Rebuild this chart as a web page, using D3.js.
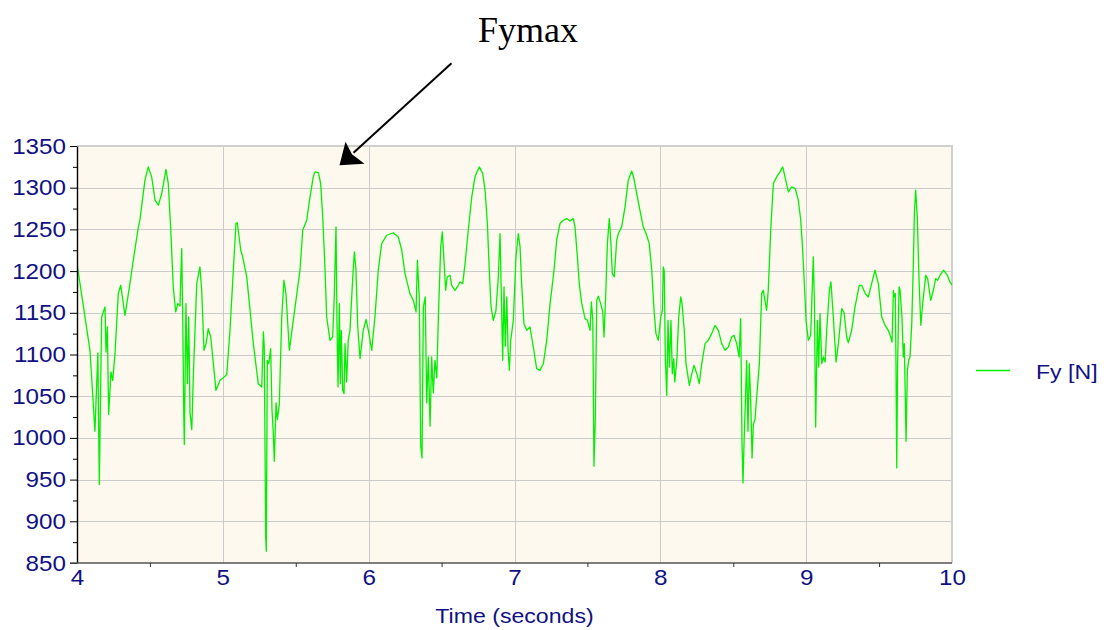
<!DOCTYPE html>
<html>
<head>
<meta charset="utf-8">
<script src="https://cdn.jsdelivr.net/npm/d3@7"></script>
<style>
  body { margin: 0; background: #ffffff; }
  text.sans { font-family: "Liberation Sans", Arial, sans-serif; }
  text.serif { font-family: "Liberation Serif", "Times New Roman", serif; }
</style>
</head>
<body>
<svg id="chart" width="1104" height="630"></svg>
<script>
// Lateral tyre force Fy [N] against time [s]: [time, force] samples
const fyTrace = [
  [4.000,1209],[4.089,1105],[4.123,1008],[4.143,1102],[4.153,944],[4.169,1145],[4.192,1157],[4.199,1103],[4.208,1133],[4.217,1028],
  [4.233,1079],[4.245,1069],[4.261,1102],[4.283,1173],[4.300,1183],[4.329,1147],[4.363,1185],[4.386,1213],[4.421,1253],[4.432,1262],
  [4.466,1309],[4.489,1325],[4.512,1313],[4.535,1285],[4.558,1279],[4.581,1293],[4.610,1322],[4.626,1305],[4.643,1249],[4.660,1181],
  [4.677,1151],[4.691,1161],[4.706,1158],[4.718,1227],[4.725,1145],[4.732,1030],[4.736,992],[4.747,1161],[4.757,1065],[4.766,1145],
  [4.775,1030],[4.787,1010],[4.798,1075],[4.821,1185],[4.843,1205],[4.855,1177],[4.871,1105],[4.885,1113],[4.900,1131],[4.917,1121],
  [4.935,1089],[4.953,1057],[4.981,1069],[5.003,1072],[5.027,1076],[5.049,1129],[5.072,1201],[5.090,1257],[5.099,1258],[5.123,1225],
  [5.136,1217],[5.164,1193],[5.209,1113],[5.243,1065],[5.267,1061],[5.278,1127],[5.284,1109],[5.294,882],[5.298,864],[5.305,1093],
  [5.315,1089],[5.328,1107],[5.337,1034],[5.346,1006],[5.353,972],[5.365,1042],[5.374,1022],[5.387,1040],[5.404,1145],[5.419,1189],
  [5.433,1173],[5.456,1105],[5.483,1141],[5.507,1172],[5.529,1201],[5.548,1249],[5.575,1261],[5.598,1289],[5.620,1313],[5.632,1319],
  [5.655,1318],[5.671,1305],[5.685,1265],[5.701,1201],[5.712,1145],[5.735,1117],[5.753,1121],[5.764,1169],[5.776,1253],[5.783,1137],
  [5.790,1061],[5.799,1161],[5.806,1065],[5.812,1129],[5.822,1057],[5.831,1053],[5.838,1113],[5.849,1067],[5.860,1117],[5.872,1129],
  [5.891,1193],[5.902,1223],[5.913,1201],[5.925,1133],[5.941,1095],[5.963,1129],[5.982,1142],[5.998,1129],[6.021,1105],[6.043,1145],
  [6.066,1201],[6.089,1233],[6.124,1243],[6.169,1246],[6.203,1241],[6.227,1225],[6.249,1197],[6.283,1173],[6.306,1165],[6.325,1151],
  [6.334,1213],[6.347,1169],[6.357,990],[6.366,976],[6.375,1157],[6.388,1169],[6.398,1042],[6.409,1097],[6.421,1014],[6.432,1097],
  [6.443,1054],[6.455,1093],[6.467,1072],[6.478,1145],[6.494,1229],[6.505,1247],[6.517,1211],[6.528,1177],[6.539,1193],[6.558,1195],
  [6.569,1183],[6.592,1177],[6.615,1183],[6.626,1187],[6.645,1185],[6.661,1209],[6.683,1249],[6.707,1289],[6.729,1313],[6.759,1325],
  [6.782,1317],[6.798,1297],[6.814,1257],[6.827,1201],[6.839,1157],[6.855,1141],[6.873,1153],[6.889,1193],[6.901,1245],[6.910,1169],
  [6.919,1093],[6.928,1181],[6.937,1110],[6.947,1169],[6.956,1105],[6.965,1081],[6.974,1117],[6.992,1141],[7.010,1217],[7.026,1245],
  [7.038,1229],[7.049,1185],[7.065,1137],[7.084,1129],[7.106,1133],[7.129,1109],[7.152,1083],[7.175,1081],[7.198,1089],[7.221,1117],
  [7.244,1161],[7.271,1201],[7.289,1237],[7.312,1257],[7.335,1261],[7.358,1263],[7.381,1260],[7.403,1263],[7.415,1253],[7.431,1217],
  [7.444,1185],[7.461,1161],[7.484,1143],[7.500,1141],[7.518,1129],[7.527,1163],[7.537,1141],[7.545,966],[7.554,1022],[7.564,1165],
  [7.575,1170],[7.591,1161],[7.605,1151],[7.614,1121],[7.625,1169],[7.637,1233],[7.650,1263],[7.660,1237],[7.671,1197],[7.684,1193],
  [7.701,1237],[7.712,1245],[7.735,1253],[7.758,1277],[7.780,1309],[7.804,1320],[7.819,1311],[7.838,1293],[7.860,1273],[7.883,1253],
  [7.902,1245],[7.924,1233],[7.941,1201],[7.957,1153],[7.970,1125],[7.986,1117],[8.003,1145],[8.014,1153],[8.020,1205],[8.027,1200],
  [8.034,1097],[8.044,1051],[8.053,1141],[8.062,1085],[8.073,1141],[8.082,1077],[8.092,1095],[8.099,1067],[8.113,1093],[8.126,1145],
  [8.140,1169],[8.149,1161],[8.164,1129],[8.176,1089],[8.199,1063],[8.216,1077],[8.231,1087],[8.250,1077],[8.267,1065],[8.284,1089],
  [8.307,1113],[8.329,1117],[8.352,1125],[8.375,1135],[8.398,1129],[8.421,1113],[8.444,1105],[8.466,1109],[8.489,1121],[8.505,1123],
  [8.524,1113],[8.540,1097],[8.551,1143],[8.560,994],[8.567,946],[8.574,994],[8.583,1042],[8.592,1093],[8.601,1008],[8.610,1089],
  [8.620,1042],[8.629,976],[8.638,1016],[8.649,1022],[8.661,1050],[8.679,1089],[8.695,1173],[8.706,1177],[8.729,1153],[8.740,1177],
  [8.757,1249],[8.775,1305],[8.798,1313],[8.821,1319],[8.839,1325],[8.855,1313],[8.878,1295],[8.901,1301],[8.925,1299],[8.946,1285],
  [8.963,1261],[8.976,1225],[8.992,1169],[8.999,1141],[9.015,1117],[9.031,1123],[9.049,1217],[9.057,1160],[9.065,1013],[9.077,1141],
  [9.086,1085],[9.095,1149],[9.107,1089],[9.118,1097],[9.130,1091],[9.141,1129],[9.159,1177],[9.170,1187],[9.186,1145],[9.205,1091],
  [9.221,1113],[9.244,1155],[9.260,1150],[9.278,1121],[9.289,1114],[9.312,1129],[9.335,1157],[9.364,1183],[9.381,1183],[9.405,1173],
  [9.426,1169],[9.449,1185],[9.472,1201],[9.495,1185],[9.518,1145],[9.541,1135],[9.563,1129],[9.580,1121],[9.589,1115],[9.598,1177],
  [9.605,1169],[9.611,1173],[9.616,1089],[9.621,964],[9.627,1089],[9.637,1181],[9.644,1177],[9.657,1145],[9.666,1097],[9.673,1113],
  [9.680,1046],[9.685,996],[9.694,1081],[9.703,1093],[9.712,1097],[9.724,1137],[9.735,1209],[9.742,1269],[9.751,1297],[9.762,1265],
  [9.774,1189],[9.786,1135],[9.799,1161],[9.820,1195],[9.833,1191],[9.854,1165],[9.872,1177],[9.888,1191],[9.902,1189],[9.918,1195],
  [9.941,1201],[9.952,1199],[9.968,1195],[9.986,1187],[10.000,1183]
];

const xTickValues = [4, 5, 6, 7, 8, 9, 10];
const xMinorTicks = [4.5, 5.5, 6.5, 7.5, 8.5, 9.5];
const yTickValues = [850, 900, 950, 1000, 1050, 1100, 1150, 1200, 1250, 1300, 1350];
const yMinorTicks = [875, 925, 975, 1025, 1075, 1125, 1175, 1225, 1275, 1325];
const xDomain = [4, 10];
const yDomain = [850, 1350];
const seriesLabel = "Fy [N]";
const xAxisTitle = "Time (seconds)";
const peakNote = "Fymax";
const peakNoteTarget = [5.80, 1327];   // where the arrow points (time, force)

const svg = d3.select("#chart");
const plot = { left: 77, top: 146, right: 952, bottom: 563 };

const x = d3.scaleLinear().domain(xDomain).range([plot.left, plot.right]);
const y = d3.scaleLinear().domain(yDomain).range([plot.bottom, plot.top]);

const navy = "#111184";
const green = "#00f000";
const gridColor = "#cbcbcb";

// plot background
svg.append("rect")
  .attr("x", plot.left).attr("y", plot.top)
  .attr("width", plot.right - plot.left).attr("height", plot.bottom - plot.top)
  .attr("fill", "#fdf9ee");

// grid
const grid = svg.append("g").attr("stroke", gridColor).attr("stroke-width", 1);
grid.selectAll("line.gx").data(xTickValues.slice(1, -1)).join("line")
  .attr("x1", d => Math.round(x(d)) + 0.5).attr("x2", d => Math.round(x(d)) + 0.5)
  .attr("y1", plot.top).attr("y2", plot.bottom);
grid.selectAll("line.gy").data(yTickValues.slice(1, -1)).join("line")
  .attr("y1", d => Math.round(y(d)) + 0.5).attr("y2", d => Math.round(y(d)) + 0.5)
  .attr("x1", plot.left).attr("x2", plot.right);

// top and right frame
svg.append("path")
  .attr("d", `M${plot.left},${plot.top} H${plot.right} V${plot.bottom}`)
  .attr("fill", "none").attr("stroke", "#d2d0cc").attr("stroke-width", 2);

// series line
svg.append("clipPath").attr("id", "plotClip").append("rect")
  .attr("x", plot.left).attr("y", plot.top - 2)
  .attr("width", plot.right - plot.left).attr("height", plot.bottom - plot.top + 2);

const line = d3.line().x(d => x(d[0])).y(d => y(d[1]));
svg.append("path")
  .datum(fyTrace)
  .attr("clip-path", "url(#plotClip)")
  .attr("fill", "none")
  .attr("stroke", green)
  .attr("stroke-width", 1.3)
  .attr("stroke-linejoin", "round")
  .attr("d", line);

// y axis: minor ticks then major ticks with labels
const yMinor = svg.append("g").attr("transform", `translate(${plot.left},0)`)
  .call(d3.axisLeft(y).tickValues(yMinorTicks).tickSize(4).tickSizeOuter(0).tickFormat(""));
yMinor.select(".domain").remove();
yMinor.selectAll("line").attr("stroke", "#000");

const yAxis = svg.append("g").attr("transform", `translate(${plot.left},0)`)
  .call(d3.axisLeft(y).tickValues(yTickValues).tickSize(7).tickSizeOuter(0).tickPadding(4).tickFormat(d3.format("d")));
yAxis.select(".domain").attr("stroke", "#000").attr("stroke-width", 1.4);
yAxis.selectAll("line").attr("stroke", "#000");
yAxis.selectAll("text").attr("fill", navy).attr("font-size", 22)
  .attr("font-family", null).classed("sans wide", true);

// x axis
const xAxis = svg.append("g").attr("transform", `translate(0,${plot.bottom})`)
  .call(d3.axisBottom(x).tickValues(xTickValues).tickSize(0).tickSizeOuter(0).tickPadding(6).tickFormat(d3.format("d")));
xAxis.select(".domain").attr("stroke", "#555").attr("stroke-width", 1.6)
  .attr("d", `M${plot.left - 7},0H${plot.right}`);
xAxis.selectAll("text").attr("fill", navy).attr("font-size", 22)
  .attr("font-family", null).classed("sans wide", true);

const xMinor = svg.append("g").attr("transform", `translate(0,${plot.bottom})`)
  .call(d3.axisBottom(x).tickValues(xMinorTicks).tickSize(4).tickSizeOuter(0).tickFormat(""));
xMinor.select(".domain").remove();
xMinor.selectAll("line").attr("stroke", "#333");

// axis title
svg.append("text")
  .attr("class", "sans wide")
  .attr("x", (plot.left + plot.right) / 2).attr("y", 623)
  .attr("text-anchor", "middle")
  .attr("fill", navy).attr("font-size", 21)
  .text(xAxisTitle);

// legend
svg.append("line")
  .attr("x1", 976).attr("x2", 1010).attr("y1", 370.5).attr("y2", 370.5)
  .attr("stroke", green).attr("stroke-width", 1.3);
svg.append("text")
  .attr("class", "sans wide")
  .attr("x", 1036).attr("y", 379)
  .attr("fill", navy).attr("font-size", 21)
  .text(seriesLabel);

// peak annotation
const tip = [x(peakNoteTarget[0]), y(peakNoteTarget[1])];
const tail = [tip[0] + 112, tip[1] - 102];
svg.append("line")
  .attr("x1", tail[0]).attr("y1", tail[1])
  .attr("x2", tip[0] + 14).attr("y2", tip[1] - 12.5)
  .attr("stroke", "#000").attr("stroke-width", 2);
svg.append("path")
  .attr("d", `M${tip[0]},${tip[1]} L${tip[0] + 6},${tip[1] - 23.5} L${tip[0] + 12.5},${tip[1] - 11} L${tip[0] + 25},${tip[1] - 1.5} Z`)
  .attr("fill", "#000");
svg.append("text")
  .attr("class", "serif")
  .attr("x", 478).attr("y", 42)
  .attr("font-size", 36)
  .attr("fill", "#000")
  .text(peakNote);

// the sans labels are set slightly wider than the stock face
svg.selectAll("text.wide").each(function () {
  const len = this.getComputedTextLength();
  d3.select(this).attr("textLength", len * 1.1).attr("lengthAdjust", "spacingAndGlyphs");
});
</script>
</body>
</html>
